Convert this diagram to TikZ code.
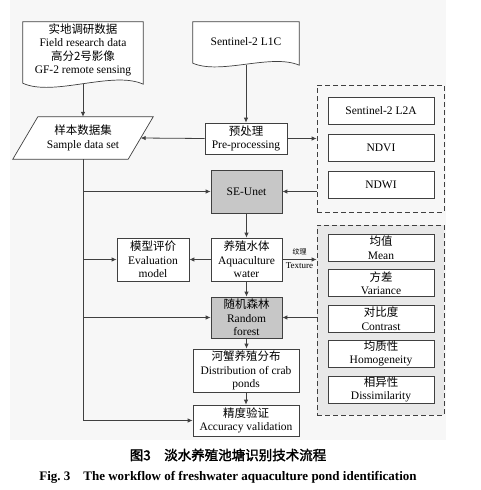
\documentclass[tikz,border=0pt]{standalone}
\usepackage{fontspec}
\setmainfont{Liberation Serif}
\newfontfamily\cjk[AutoFakeBold=2]{Noto Sans CJK SC}
\usetikzlibrary{arrows.meta,backgrounds}

\begin{document}
\begin{tikzpicture}[x=1pt, y=-1pt,
  every node/.style={font=\fontsize{11.5}{13.5}\selectfont, align=center, inner sep=0pt},
  box/.style={draw=black!75, line width=0.7pt, fill=white, minimum height=27pt},
  shaded/.style={box, fill=black!22},
  group/.style={draw=black!75, line width=0.7pt, dash pattern=on 5pt off 3pt},
  shape line/.style={draw=black!75, line width=0.7pt, fill=white},
  flow/.style={draw=black!75, line width=0.8pt, -{Latex[length=5pt,width=4.5pt]}}]
  \useasboundingbox (0,0) rectangle (481,490);
  \begin{pgfonlayer}{background}
    \fill[black!3] (10,0) rectangle (446,440);
  \end{pgfonlayer}

  % inputs
  \node (fielddata) [minimum width=120pt, minimum height=56pt] at (83,50)
    {{\cjk 实地调研数据}\\Field research data\\{\cjk 高分2号影像}\\GF-2 remote sensing};
  \coordinate (fieldend) at ([shift={(0,6)}]fielddata.south);
  \node (l1c) [minimum width=106pt, minimum height=40pt] at (246,42) {Sentinel-2 L1C};
  \coordinate (l1cend) at ([shift={(0,3)}]l1c.south);
  \node (sample) [minimum width=115pt, minimum height=42pt] at (83,138)
    {{\cjk 样本数据集}\\Sample data set};

  % main column
  \node (prep) [box, minimum width=82pt, minimum height=31pt] at (246,138.5)
    {{\cjk 预处理}\\Pre-processing};
  \node (seunet) [shaded, minimum width=71pt, minimum height=43pt] at (246.5,191.5) {SE-Unet};
  \node (aqua) [box, minimum width=71pt, minimum height=43pt] at (246.5,259.5)
    {{\cjk 养殖水体}\\Aquaculture\\water};
  \node (evalmodel) [box, minimum width=72pt, minimum height=43pt] at (153,259.5)
    {{\cjk 模型评价}\\Evaluation\\model};
  \node (rf) [shaded, minimum width=71pt, minimum height=41pt] at (246.5,317.5)
    {{\cjk 随机森林}\\Random\\forest};
  \node (crab) [box, minimum width=106pt, minimum height=43pt] at (246,370.5)
    {{\cjk 河蟹养殖分布}\\Distribution of crab\\ponds};
  \node (acc) [box, minimum width=106pt, minimum height=31pt] at (246,420.5)
    {{\cjk 精度验证}\\Accuracy validation};

  % groups
  \node (bands) [group, minimum width=127pt, minimum height=127pt] at (380.5,148.5) {};
  \node (l2a) [box, minimum width=106pt] at (381,110.5) {Sentinel-2 L2A};
  \node (ndvi) [box, minimum width=106pt] at (381,148) {NDVI};
  \node (ndwi) [box, minimum width=106pt] at (381,184.5) {NDWI};
  \node (texture) [group, fill=black!9, minimum width=127pt, minimum height=190pt] at (380.5,320) {};
  \node (mean) [box, minimum width=106pt] at (381,247.5) {{\cjk 均值}\\Mean};
  \node (variance) [box, minimum width=106pt] at (381,283) {{\cjk 方差}\\Variance};
  \node (contrast) [box, minimum width=106pt] at (381,318.5) {{\cjk 对比度}\\Contrast};
  \node (homog) [box, minimum width=106pt] at (381,353.5) {{\cjk 均质性}\\Homogeneity};
  \node (dissim) [box, minimum width=106pt] at (381,389.5) {{\cjk 相异性}\\Dissimilarity};

  \begin{pgfonlayer}{background}
    \draw[shape line] (fielddata.north west) -- (fielddata.north east)
      -- ([shift={(0,6)}]fielddata.south east) .. controls +(-30,-14) and +(30,14)
      .. ([shift={(0,5)}]fielddata.south west) -- cycle;
    \draw[shape line] (l1c.north west) -- (l1c.north east)
      -- ([shift={(0,3)}]l1c.south east) .. controls +(-28,-12) and +(28,12)
      .. ([shift={(0,1)}]l1c.south west) -- cycle;
    \draw[shape line] ([shift={(12.5,0)}]sample.north west) -- ([shift={(12.5,0)}]sample.north east)
      -- ([shift={(-12.5,0)}]sample.south east) -- ([shift={(-12.5,0)}]sample.south west) -- cycle;
  \end{pgfonlayer}

  % connectors
  \draw[flow] (fieldend) -- (sample.north);
  \draw[flow] (l1cend) -- (prep.north);
  \draw[flow] (prep.west) -- (sample.east);
  \draw[flow] (prep.east) -- (prep.east -| bands.west);
  \draw[flow] (bands.west |- seunet.east) -- (seunet.east);
  \draw[flow] (seunet.south) -- (aqua.north);
  \draw[flow] (aqua.west) -- (evalmodel.east);
  \draw[flow] (aqua.east) -- node[above=4pt, font=\cjk\fontsize{7}{8}\selectfont] {纹理}
    node[below=3pt, font=\fontsize{9}{10}\selectfont] {Texture} (aqua.east -| texture.west);
  \draw[flow] (aqua.south) -- (rf.north);
  \draw[flow] (texture.west |- rf.east) -- (rf.east);
  \draw[flow] (rf.south) -- (rf.south |- crab.north);
  \draw[flow] (crab.south) -- (acc.north);
  \draw[flow] (sample.south) |- (acc.west);
  \draw[flow] (sample.south |- seunet.west) -- (seunet.west);
  \draw[flow] (sample.south |- evalmodel.west) -- (evalmodel.west);
  \draw[flow] (sample.south |- rf.west) -- (rf.west);

  % caption
  \node (captionzh) at (228,455)
    {\cjk\bfseries\fontsize{13.5}{15}\selectfont 图3\quad 淡水养殖池塘识别技术流程};
  \node (captionen) at (228,477)
    {\bfseries\fontsize{13}{15}\selectfont Fig.~3\quad The workflow of freshwater aquaculture pond identification};
\end{tikzpicture}
\end{document}
